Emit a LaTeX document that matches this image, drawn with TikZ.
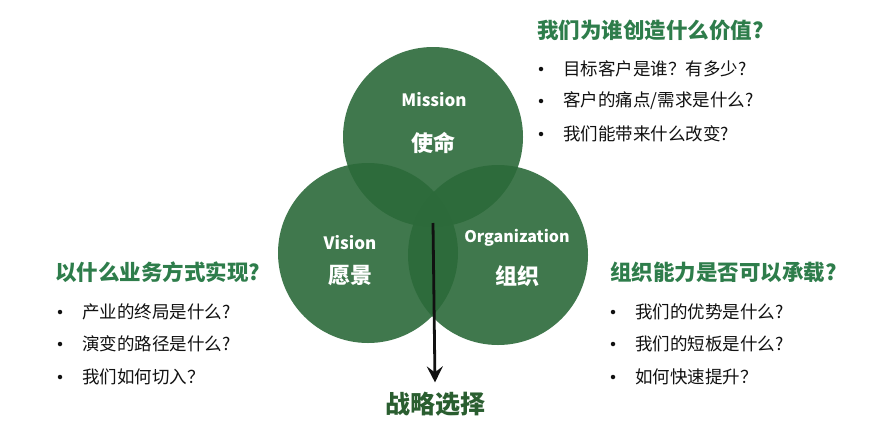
\documentclass[tikz,border=0pt]{standalone}
\usepackage{fontspec}
\setmainfont{Noto Sans CJK SC}
\usepackage{tikz}
\usetikzlibrary{arrows.meta,positioning,calc}
\usepackage{xcolor}
\definecolor{Leaf}{HTML}{2C6A3A}
\definecolor{Head}{HTML}{2E7D4B}
\definecolor{Deep}{HTML}{2A5E30}
\definecolor{Ink}{HTML}{111111}
\newcommand{\QItem}[4]{%
  \node[qdot] (#1d) at (#2,#3) {};%
  \node[qtext] (#1) at (#2+22,#3) {#4};%
}

\begin{document}
\begin{tikzpicture}[x=1pt,y=-1pt,
  ring/.style={circle,minimum size=180pt,inner sep=0pt,fill=Leaf,fill opacity=0.9,draw=none},
  entitle/.style={text=white,font=\bfseries\fontsize{17}{19}\selectfont},
  zhtitle/.style={text=white,font=\bfseries\fontsize{22}{24}\selectfont},
  qhead/.style={anchor=west,text=Head,font=\bfseries\fontsize{21.5}{23}\selectfont,inner sep=0pt},
  qdot/.style={circle,fill=Ink,minimum size=4.5pt,inner sep=0pt},
  qtext/.style={anchor=west,text=Ink,font=\fontsize{17.5}{19}\selectfont,inner sep=0pt}]
\useasboundingbox[fill=white] (0,0) rectangle (890,442);
% three circles
\node[ring] (mission) at (433,137) {};
\node[ring] (vision) at (368,253) {};
\node[ring] (org) at (498,255) {};
\node[entitle] (missionEn) at (434,100) {Mission};
\node[zhtitle] (missionZh) at (433,143) {使命};
\node[entitle] (visionEn) at (350,243) {Vision};
\node[zhtitle] (visionZh) at (350,276) {愿景};
\node[entitle,font=\bfseries\fontsize{16}{18}\selectfont] (orgEn) at (517,238) {Organization};
\node[zhtitle] (orgZh) at (517,276) {组织};
% arrow to the choice
\coordinate (core) at (433,223);
\node[text=Deep,font=\bfseries\fontsize{25}{27}\selectfont] (choice) at (435,404) {战略选择};
\draw[Ink,line width=2.8pt,-{Stealth[length=16pt,width=16pt,inset=6pt]}] (core) -- ([yshift=6pt]choice.north);
% mission questions
\node[qhead] (missionQ) at (537,30) {我们为谁创造什么价值?};
\QItem{m1}{541}{69}{目标客户是谁？有多少?}
\QItem{m2}{541}{101}{客户的痛点/需求是什么?}
\QItem{m3}{541}{134}{我们能带来什么改变?}
% vision questions
\node[qhead] (visionQ) at (55,272) {以什么业务方式实现?};
\QItem{v1}{60}{312}{产业的终局是什么?}
\QItem{v2}{60}{344}{演变的路径是什么?}
\QItem{v3}{60}{377}{我们如何切入？}
% organization questions
\node[qhead] (orgQ) at (610,272) {组织能力是否可以承载?};
\QItem{o1}{613}{312}{我们的优势是什么?}
\QItem{o2}{613}{344}{我们的短板是什么?}
\QItem{o3}{613}{377}{如何快速提升？}
\end{tikzpicture}
\end{document}
